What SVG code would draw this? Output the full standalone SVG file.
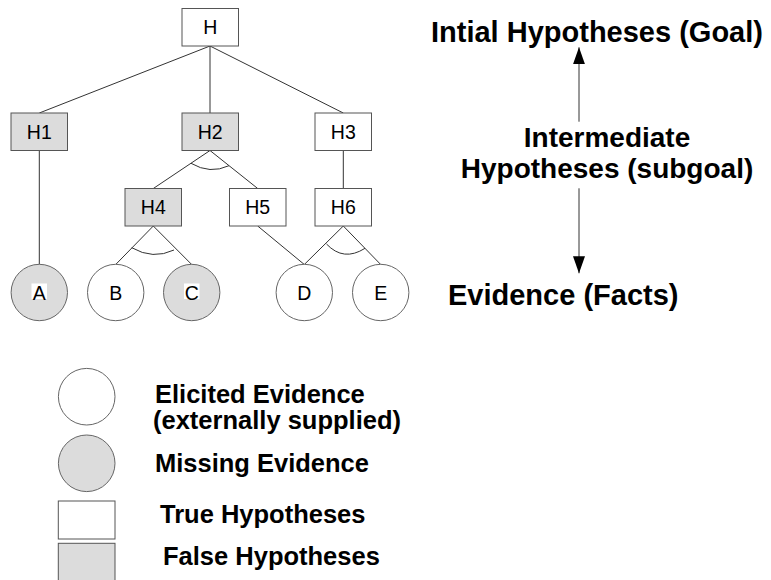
<svg xmlns="http://www.w3.org/2000/svg" width="771" height="580" viewBox="0 0 771 580">
  <defs>
    <marker id="arrow" viewBox="0 0 17 12" refX="17" refY="6" markerWidth="17" markerHeight="12" markerUnits="userSpaceOnUse" orient="auto">
      <path d="M0,0 L17,6 L0,12 z" fill="#000"/>
    </marker>
    <style>
      .box { stroke: #555; stroke-width: 1; }
      .circ { stroke: #666; stroke-width: 1; }
      .true { fill: #fff; }
      .false { fill: #dcdcdc; }
      .lbl { font-family: "Liberation Sans", Arial, sans-serif; font-size: 19.5px; fill: #000; text-anchor: middle; }
      .big { font-family: "Liberation Sans", Arial, sans-serif; font-weight: bold; fill: #000; }
      .edge { stroke: #333; stroke-width: 1; fill: none; }
      .and { stroke: #333; stroke-width: 1; fill: none; }
    </style>
  </defs>
  <rect width="771" height="580" fill="#fff"/>

  <!-- connectors -->
  <g id="connectors">
    <line class="edge" x1="210" y1="46" x2="39.3" y2="113"/>
    <line class="edge" x1="210" y1="46" x2="210" y2="113"/>
    <line class="edge" x1="210" y1="46" x2="343.3" y2="113"/>
    <line class="edge" x1="39.3" y1="150.5" x2="39.3" y2="264.5"/>
    <line class="edge" x1="210" y1="150.5" x2="153.3" y2="188.5"/>
    <line class="edge" x1="210" y1="150.5" x2="257.7" y2="188.5"/>
    <line class="edge" x1="343.3" y1="150.5" x2="343.3" y2="188.5"/>
    <line class="edge" x1="153.3" y1="226" x2="115.7" y2="264.5"/>
    <line class="edge" x1="153.3" y1="226" x2="191.7" y2="264.5"/>
    <line class="edge" x1="257.7" y1="226" x2="304.3" y2="264.5"/>
    <line class="edge" x1="343.3" y1="226" x2="304.3" y2="264.5"/>
    <line class="edge" x1="343.3" y1="226" x2="380.7" y2="264.5"/>
    <!-- AND arcs -->
    <path class="and" d="M191,163.3 Q210,174.5 229,165.7"/>
    <path class="and" d="M131.7,247.7 Q153,260 174,250"/>
    <path class="and" d="M326.5,244 Q343.5,262 365,248.3"/>
    <!-- direction arrows -->
    <line class="edge" x1="579" y1="121.7" x2="579" y2="47.3" marker-end="url(#arrow)"/>
    <line class="edge" x1="579" y1="188.3" x2="579" y2="273.3" marker-end="url(#arrow)"/>
  </g>

  <!-- hypothesis nodes -->
  <g id="H"><rect class="box true" x="182" y="8.5" width="56.5" height="37.5"/><text class="lbl" x="210.2" y="34.2">H</text></g>
  <g id="H1"><rect class="box false" x="11" y="113" width="56.5" height="37.5"/><text class="lbl" x="39.3" y="138.7">H1</text></g>
  <g id="H2"><rect class="box false" x="182" y="113" width="56.5" height="37.5"/><text class="lbl" x="210.2" y="138.7">H2</text></g>
  <g id="H3"><rect class="box true" x="315" y="113" width="56.5" height="37.5"/><text class="lbl" x="343.3" y="138.7">H3</text></g>
  <g id="H4"><rect class="box false" x="125" y="188.5" width="56.5" height="37.5"/><text class="lbl" x="153.3" y="214.2">H4</text></g>
  <g id="H5"><rect class="box true" x="229.5" y="188.5" width="56.5" height="37.5"/><text class="lbl" x="257.7" y="214.2">H5</text></g>
  <g id="H6"><rect class="box true" x="315" y="188.5" width="56.5" height="37.5"/><text class="lbl" x="343.3" y="214.2">H6</text></g>

  <!-- evidence nodes -->
  <g id="A"><circle class="circ false" cx="39.3" cy="292.5" r="28.2"/><rect x="31.5" y="283.5" width="15.5" height="15.5" fill="#fff"/><text class="lbl" x="39.3" y="299.5">A</text></g>
  <g id="B"><circle class="circ true" cx="115.7" cy="292.5" r="28.2"/><text class="lbl" x="115.7" y="299.5">B</text></g>
  <g id="C"><circle class="circ false" cx="191.7" cy="292.5" r="28.2"/><rect x="184" y="283.5" width="15.5" height="15.5" fill="#fff"/><text class="lbl" x="191.7" y="299.5">C</text></g>
  <g id="D"><circle class="circ true" cx="304.3" cy="292.5" r="28.2"/><text class="lbl" x="304.3" y="299.5">D</text></g>
  <g id="E"><circle class="circ true" cx="380.7" cy="292.5" r="28.2"/><text class="lbl" x="380.7" y="299.5">E</text></g>

  <!-- level labels -->
  <g id="levels">
    <text class="big" x="431" y="41.7" font-size="29">Intial Hypotheses (Goal)</text>
    <text class="big" x="607" y="146.7" font-size="28" text-anchor="middle">Intermediate</text>
    <text class="big" x="607" y="178" font-size="28" text-anchor="middle">Hypotheses (subgoal)</text>
    <text class="big" x="448" y="305" font-size="29">Evidence (Facts)</text>
  </g>

  <!-- legend -->
  <g id="legend">
    <circle class="circ true" cx="86.7" cy="396.7" r="28.3"/>
    <circle class="circ false" cx="86.7" cy="463.3" r="28.3"/>
    <rect class="box true" x="58.3" y="501" width="56.7" height="38"/>
    <rect class="box false" x="58.3" y="543.3" width="56.7" height="40"/>
    <text class="big" x="155" y="403" font-size="25.5">Elicited Evidence</text>
    <text class="big" x="153" y="429" font-size="25.5">(externally supplied)</text>
    <text class="big" x="155" y="472" font-size="25.5">Missing Evidence</text>
    <text class="big" x="160" y="523" font-size="25.5">True Hypotheses</text>
    <text class="big" x="163" y="565" font-size="25.5">False Hypotheses</text>
  </g>
</svg>
